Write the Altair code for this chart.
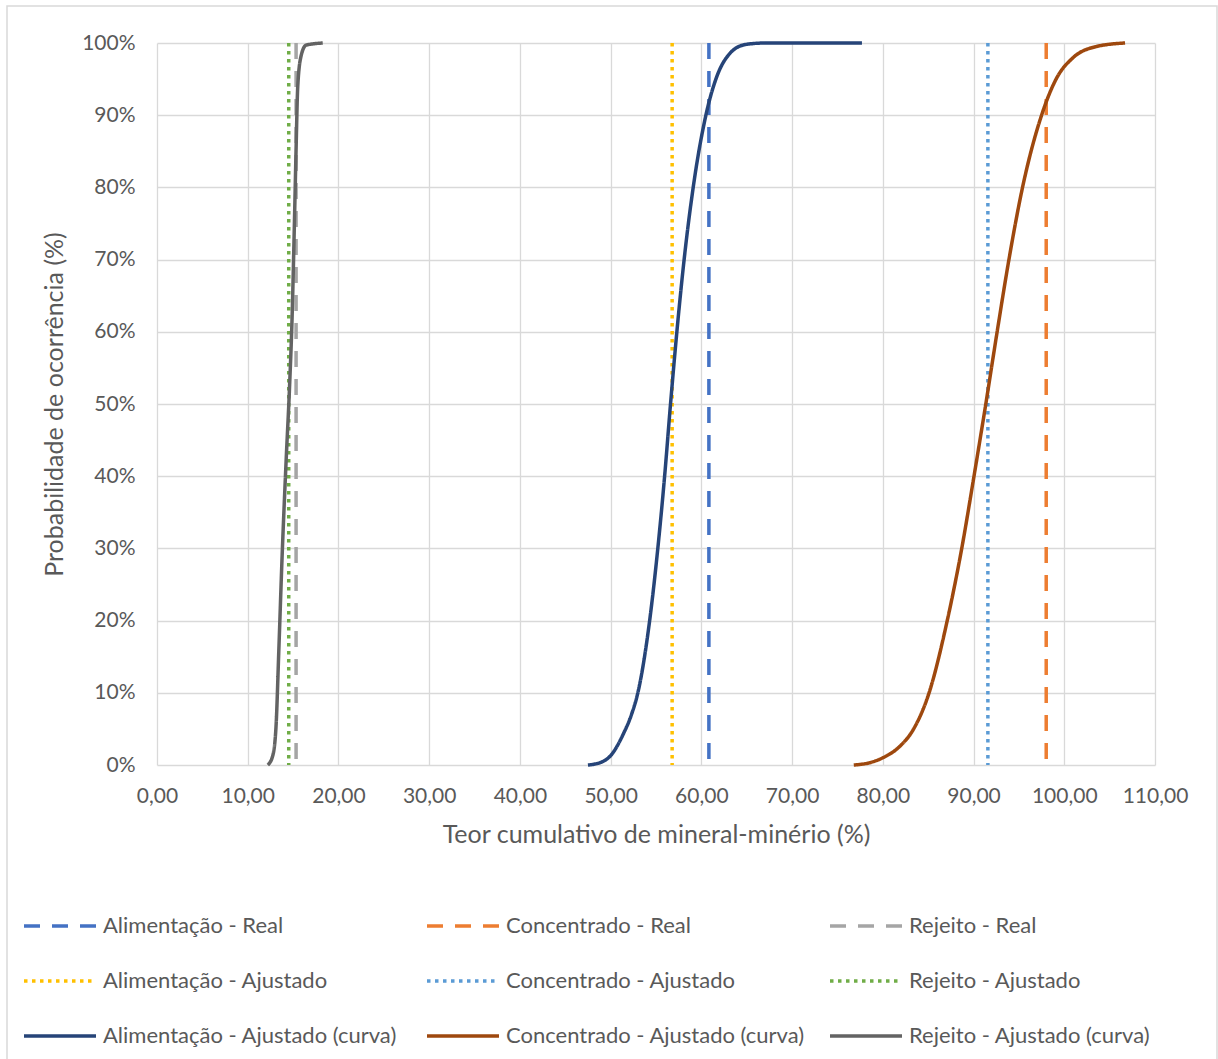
import altair as alt
import pandas as pd

# --- data ---
series_names = [
    "Alimentação - Real", "Concentrado - Real", "Rejeito - Real",
    "Alimentação - Ajustado", "Concentrado - Ajustado", "Rejeito - Ajustado",
    "Alimentação - Ajustado (curva)", "Concentrado - Ajustado (curva)", "Rejeito - Ajustado (curva)",
]
series_colors = ["#4472C4", "#ED7D31", "#A5A5A5",
                 "#FFC000", "#5B9BD5", "#70AD47",
                 "#264478", "#9E480E", "#636363"]
series_dash = [[16, 12], [16, 12], [16, 12],
               [3.5, 4.5], [3.5, 4.5], [3.5, 4.5],
               [1, 0], [1, 0], [1, 0]]

# vertical reference lines (teor, %)
rule_names = ["Alimentação - Real", "Concentrado - Real", "Rejeito - Real",
              "Alimentação - Ajustado", "Concentrado - Ajustado", "Rejeito - Ajustado"]
rule_values = [60.83, 98.01, 15.33, 56.78, 91.58, 14.52]

# fitted cumulative curves (x: teor %, y: probabilidade %)
alim_x = [47.50, 49.00, 50.00, 51.40, 52.30, 53.00, 54.30, 55.20, 55.95, 56.60,
          57.30, 58.10, 59.10, 60.50, 61.60, 63.10, 64.90, 67.00, 77.70]
alim_y = [0.0, 0.4, 1.3, 4.3, 7.0, 10.0, 20.0, 30.0, 40.0, 50.0,
          60.0, 70.0, 80.0, 90.0, 95.0, 98.5, 99.8, 100.0, 100.0]

conc_x = [76.80, 78.50, 80.00, 81.80, 83.40, 85.10, 87.10, 88.70, 90.05, 91.35,
          92.60, 93.90, 95.40, 97.50, 99.10, 101.00, 103.50, 106.70]
conc_y = [0.0, 0.3, 1.0, 2.5, 5.0, 10.0, 20.0, 30.0, 40.0, 50.0,
          60.0, 70.0, 80.0, 90.0, 95.0, 98.0, 99.5, 100.0]

rej_x = [12.21, 12.76, 13.13, 13.42, 13.79, 14.23, 14.60, 14.89, 15.15, 15.33,
         15.51, 15.88, 16.43, 18.27]
rej_y = [0.0, 1.3, 5.6, 15.6, 28.9, 42.1, 52.1, 62.0, 75.3, 85.3,
         93.9, 98.2, 99.7, 100.0]

x_ticks = [0, 10, 20, 30, 40, 50, 60, 70, 80, 90, 100, 110]
y_ticks = [0, 10, 20, 30, 40, 50, 60, 70, 80, 90, 100]

# --- tables ---
rules_df = pd.DataFrame({"serie": rule_names, "teor": rule_values})
curves_df = pd.concat([
    pd.DataFrame({"serie": "Alimentação - Ajustado (curva)", "teor": alim_x, "prob": alim_y, "ordem": range(len(alim_x))}),
    pd.DataFrame({"serie": "Concentrado - Ajustado (curva)", "teor": conc_x, "prob": conc_y, "ordem": range(len(conc_x))}),
    pd.DataFrame({"serie": "Rejeito - Ajustado (curva)", "teor": rej_x, "prob": rej_y, "ordem": range(len(rej_x))}),
], ignore_index=True)

FONT = "Lato"
GRAY = "#595959"
W, H = 998, 722

color_scale = alt.Scale(domain=series_names, range=series_colors)
dash_scale = alt.Scale(domain=series_names, range=series_dash)

legend = alt.Legend(
    title=None, orient="none", legendX=-135, legendY=845,
    direction="horizontal", columns=3, gridAlign="all", columnPadding=18, rowPadding=6,
    padding=0,
    symbolType="stroke", symbolSize=5184, symbolStrokeWidth=3.5,
    labelFont=FONT, labelFontSize=22, labelColor=GRAY, labelOffset=5,
    labelLimit=400,
)

x_enc = alt.X("teor:Q", scale=alt.Scale(domain=[0, 110], nice=False),
              axis=alt.Axis(values=x_ticks, title="Teor cumulativo de mineral-minério (%)",
                            labelOverlap=False, labelFlush=False,
                            labelExpr="replace(format(datum.value, '.2f'), '.', ',')"))

rules = alt.Chart(rules_df).mark_rule(strokeWidth=3.5).encode(
    x=x_enc,
    color=alt.Color("serie:N", scale=color_scale, legend=legend),
    strokeDash=alt.StrokeDash("serie:N", scale=dash_scale, legend=legend),
)

lines = alt.Chart(curves_df).mark_line(strokeWidth=3.5, interpolate="monotone").encode(
    x=x_enc,
    y=alt.Y("prob:Q", scale=alt.Scale(domain=[0, 100], nice=False),
            axis=alt.Axis(values=y_ticks, title="Probabilidade de ocorrência (%)",
                          labelOverlap=False, labelFlush=False,
                          labelExpr="datum.value + '%'")),
    order="ordem:Q",
    color=alt.Color("serie:N", scale=color_scale, legend=legend),
    strokeDash=alt.StrokeDash("serie:N", scale=dash_scale, legend=legend),
)

border = alt.Chart(pd.DataFrame({"k": [0]})).mark_rect(
    fill=None, stroke="#D9D9D9", strokeWidth=1.5
).encode(x=alt.value(-150), x2=alt.value(1060), y=alt.value(-37), y2=alt.value(1040))

chart = alt.layer(border, rules, lines).resolve_scale(color="shared", strokeDash="shared").properties(
    width=W, height=H,
    autosize=alt.AutoSizeParams(type="none"),
    padding={"left": 157, "top": 43, "right": 63, "bottom": 294},
    background="white",
).configure_view(stroke=None).configure_axis(
    grid=True, gridColor="#D9D9D9", gridWidth=1.3,
    domain=False, ticks=False,
    labelFont=FONT, labelFontSize=21, labelColor=GRAY,
    titleFont=FONT, titleFontSize=25, titleColor=GRAY, titleFontWeight="normal",
).configure_axisX(labelPadding=20, titlePadding=16).configure_axisY(labelPadding=22, titlePadding=14)

chart.save("out.html", embed_options={"renderer": "svg", "actions": False})
